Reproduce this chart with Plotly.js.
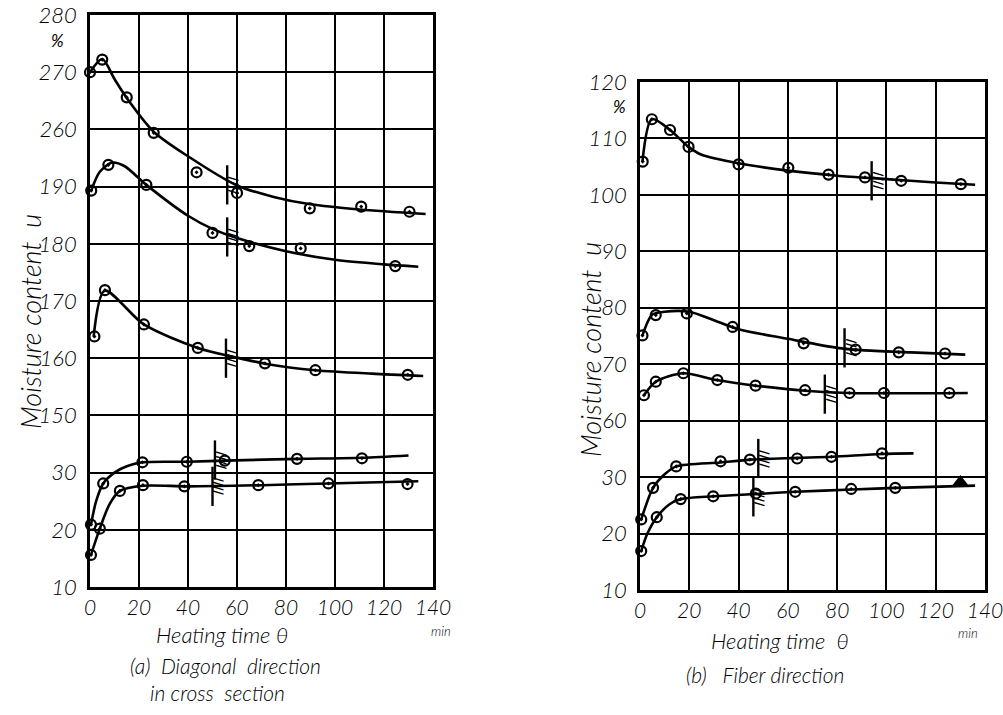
<!DOCTYPE html>
<html>
<head>
<meta charset="utf-8">
<script src="https://cdn.plot.ly/plotly-3.0.1.min.js"></script>
<style>html,body{margin:0;padding:0;background:#fff;}#chart{width:1003px;height:715px;}</style>
</head>
<body>
<div id="chart"></div>
<script>
// ---------- shared ----------
const thetaTicks = [0, 20, 40, 60, 80, 100, 120, 140];

// ---------- panel (a): diagonal direction in cross section ----------
const aTickLabels = ['10', '20', '30', '150', '160', '170', '180', '190', '260', '270', '280'];
// series 1 (top, 245-272 %)
const a1PtTheta = [0, 5, 15, 26, 43.5, 60, 89.7, 110.7, 130.4];
const a1PtU     = [270, 272.2, 265.6, 259.4, 252.5, 248.9, 246.2, 246.5, 245.6];
const a1CvTheta = [0, 5, 10, 15, 26, 40, 60, 75, 90, 110, 137];
const a1CvU     = [270, 272.3, 268.8, 265.5, 259.6, 255.3, 250.2, 248.2, 246.9, 246.0, 245.2];
// series 2 (176-194 %)
const a2PtTheta = [0.5, 7.5, 23, 50, 65, 86, 124.6];
const a2PtU     = [189.3, 193.8, 190.3, 181.9, 179.6, 179.2, 176.1];
const a2CvTheta = [0.5, 4, 9, 14, 23, 40, 50, 60, 80, 100, 120, 134];
const a2CvU     = [189.3, 192.6, 194.2, 193.6, 190.3, 184.9, 182.6, 181.0, 178.7, 177.2, 176.4, 176.0];
// series 3 (157-172 %)
const a3PtTheta = [1.8, 6.1, 22, 44, 71.4, 92, 129.7];
const a3PtU     = [163.8, 171.9, 165.9, 161.8, 159.1, 157.9, 157.1];
const a3CvTheta = [1.5, 6, 22, 44, 60, 72, 92, 115, 136];
const a3CvU     = [163.8, 171.8, 165.9, 161.8, 160.1, 159.0, 157.9, 157.3, 156.9];
// series 4 (21-33 %)
const a4PtTheta = [0.4, 5.4, 21.4, 39.5, 55, 84.5, 111];
const a4PtU     = [20.9, 28.1, 31.8, 31.9, 32.1, 32.4, 32.5];
const a4CvTheta = [0.4, 2.5, 5.4, 10, 15, 21.4, 40, 55, 85, 111, 130];
const a4CvU     = [20.9, 25.0, 28.1, 30.0, 31.1, 31.8, 31.9, 32.1, 32.4, 32.6, 33.0];
// series 5 (16-28 %)
const a5PtTheta = [0.4, 4, 12.2, 21.6, 38.5, 68.7, 97.3, 129.6];
const a5PtU     = [15.6, 20.2, 26.8, 27.8, 27.6, 27.8, 28.1, 28.0];
const a5CvTheta = [0.4, 4, 8, 12.2, 21.6, 40, 70, 97, 134];
const a5CvU     = [15.6, 20.2, 24.5, 26.8, 27.7, 27.6, 27.8, 28.1, 28.5];
// hatch marks (critical points) per series, top to bottom
const aHatchTheta = [56, 56, 55.5, 51, 50];
const aHatchU     = [250.3, 181.2, 160.0, 32.2, 27.6];

// ---------- panel (b): fiber direction ----------
const bTickLabels = ['10', '20', '30', '60', '70', '80', '90', '100', '110', '120'];
// series 1 (102-113 %)
const b1PtTheta = [1.1, 4.8, 12.2, 19.7, 40, 60.2, 76.5, 91.3, 106, 130.2];
const b1PtU     = [105.9, 113.4, 111.5, 108.5, 105.4, 104.8, 103.6, 103.1, 102.5, 101.9];
const b1CvTheta = [1, 4.8, 12.2, 19.7, 25, 40, 60, 80, 100, 120, 136];
const b1CvU     = [105.9, 113.4, 111.5, 108.5, 107.1, 105.6, 104.3, 103.4, 102.8, 102.2, 101.8];
// series 2 (72-79 %)
const b2PtTheta = [1, 6.4, 19, 37.6, 66.4, 87.5, 105, 123.8];
const b2PtU     = [75.1, 78.7, 79.0, 76.6, 73.7, 72.6, 72.1, 71.9];
const b2CvTheta = [1, 5, 10, 20, 30, 40, 60, 80, 90, 110, 132];
const b2CvU     = [75.1, 78.8, 79.3, 79.3, 77.8, 76.2, 74.5, 72.9, 72.5, 72.1, 71.7];
// series 3 (64-68 %)
const b3PtTheta = [1.6, 6.4, 17.6, 31.4, 46.9, 67, 85, 99, 125.5];
const b3PtU     = [64.5, 66.9, 68.4, 67.2, 66.2, 65.4, 64.9, 64.9, 64.9];
const b3CvTheta = [1.6, 6.4, 17.6, 31, 47, 67, 85, 133];
const b3CvU     = [64.5, 66.9, 68.4, 67.2, 66.2, 65.3, 64.9, 64.9];
// series 4 (22-34 %)
const b4PtTheta = [0.5, 5.3, 14.7, 32.7, 44.6, 63.8, 77.7, 98.2];
const b4PtU     = [22.5, 28.1, 31.9, 32.8, 33.1, 33.3, 33.6, 34.2];
const b4CvTheta = [0.5, 5.3, 10, 14.7, 32.7, 45, 64, 78, 98, 111];
const b4CvU     = [22.5, 28.1, 30.5, 31.9, 32.6, 33.1, 33.4, 33.6, 34.1, 34.2];
// series 5 (17-29 %)
const b5PtTheta = [0.5, 6.8, 16.5, 29.7, 47, 63, 85.7, 103.6];
const b5PtU     = [16.9, 22.9, 26.1, 26.6, 27.1, 27.4, 27.9, 28.1];
const b5TriTheta = [130];
const b5TriU     = [29.0];
const b5CvTheta = [0.5, 3, 6.8, 12, 16.5, 30, 47, 63, 86, 104, 136];
const b5CvU     = [16.9, 20.0, 22.9, 25.2, 26.1, 26.6, 27.0, 27.4, 27.8, 28.1, 28.5];
const bHatchTheta = [94, 83, 75, 48, 46];
const bHatchU     = [102.5, 72.9, 64.7, 33.3, 26.5];

// ---------- styling ----------
const FONT = "Lato, 'DejaVu Sans', sans-serif";
const ink = '#000';
const lineStyle = {color: ink, width: 2.6, shape: 'spline', smoothing: 0.8};
const markerStyle = {symbol: 'circle-open-dot', size: 10, color: ink, line: {color: ink, width: 2.2}};

function curve(x, y, xa, ya) {
  return {x: x, y: y, xaxis: xa, yaxis: ya, mode: 'lines', line: lineStyle, hoverinfo: 'skip', showlegend: false, cliponaxis: false};
}
function pts(x, y, xa, ya, sym) {
  const m = Object.assign({}, markerStyle);
  if (sym) { m.symbol = sym; m.size = 12; }
  return {x: x, y: y, xaxis: xa, yaxis: ya, mode: 'markers', marker: m, showlegend: false, cliponaxis: false};
}

// which y axis draws each series
const aAxes = ['y3', 'y2', 'y2', 'y', 'y'];
const bAxes = ['y5', 'y5', 'y5', 'y4', 'y4'];

const traces = [
  curve(a1CvTheta, a1CvU, 'x', 'y3'), pts(a1PtTheta, a1PtU, 'x', 'y3'),
  curve(a2CvTheta, a2CvU, 'x', 'y2'), pts(a2PtTheta, a2PtU, 'x', 'y2'),
  curve(a3CvTheta, a3CvU, 'x', 'y2'), pts(a3PtTheta, a3PtU, 'x', 'y2'),
  curve(a4CvTheta, a4CvU, 'x', 'y'),  pts(a4PtTheta, a4PtU, 'x', 'y'),
  curve(a5CvTheta, a5CvU, 'x', 'y'),  pts(a5PtTheta, a5PtU, 'x', 'y'),
  curve(b1CvTheta, b1CvU, 'x2', 'y5'), pts(b1PtTheta, b1PtU, 'x2', 'y5'),
  curve(b2CvTheta, b2CvU, 'x2', 'y5'), pts(b2PtTheta, b2PtU, 'x2', 'y5'),
  curve(b3CvTheta, b3CvU, 'x2', 'y5'), pts(b3PtTheta, b3PtU, 'x2', 'y5'),
  curve(b4CvTheta, b4CvU, 'x2', 'y4'), pts(b4PtTheta, b4PtU, 'x2', 'y4'),
  curve(b5CvTheta, b5CvU, 'x2', 'y4'), pts(b5PtTheta, b5PtU, 'x2', 'y4'),
  pts(b5TriTheta, b5TriU, 'x2', 'y4', 'triangle-up')
];

// hatch marks: vertical stroke through each critical point
const hatchMarker = {symbol: 'line-ns-open', size: 28, color: ink, line: {color: ink, width: 2.4}};
aHatchTheta.forEach((t, i) => traces.push({x: [t], y: [aHatchU[i]], xaxis: 'x', yaxis: aAxes[i], mode: 'markers',
  marker: hatchMarker, showlegend: false, cliponaxis: false}));
bHatchTheta.forEach((t, i) => traces.push({x: [t], y: [bHatchU[i]], xaxis: 'x2', yaxis: bAxes[i], mode: 'markers',
  marker: hatchMarker, showlegend: false, cliponaxis: false}));

const annotations = [];
function hatchText(xa, ya, t, u) {
  annotations.push({xref: xa, yref: ya, x: t, y: u, text: '////', showarrow: false, textangle: -90,
    xanchor: 'center', yanchor: 'middle', xshift: 6, font: {family: "'DejaVu Sans', sans-serif", size: 12, color: ink, weight: 'bold'}});
}
aHatchTheta.forEach((t, i) => hatchText('x', aAxes[i], t, aHatchU[i]));
bHatchTheta.forEach((t, i) => hatchText('x2', bAxes[i], t, bHatchU[i]));

function txt(x, y, text, size, extra) {
  annotations.push(Object.assign({xref: 'paper', yref: 'paper', x: x, y: y, text: text, showarrow: false,
    xanchor: 'center', yanchor: 'middle',
    font: {family: FONT, size: size, color: ink, style: 'italic', weight: 300}}, extra || {}));
}
// y titles
txt(30 / 1003, 1 - 322 / 715, 'Moisture content  u', 27, {textangle: -90});
txt(590 / 1003, 1 - 350 / 715, 'Moisture content  u', 27, {textangle: -90});
// percent signs
txt(57 / 1003, 1 - 41 / 715, '%', 17, {font: {family: FONT, size: 17, color: ink, style: 'italic'}});
txt(619 / 1003, 1 - 107 / 715, '%', 17, {font: {family: FONT, size: 17, color: ink, style: 'italic'}});
// min units
txt(441 / 1003, 1 - 631 / 715, 'min', 13);
txt(968 / 1003, 1 - 633 / 715, 'min', 13);
// x titles
txt(222 / 1003, 1 - 634 / 715, 'Heating time θ', 22);
txt(780 / 1003, 1 - 640 / 715, 'Heating time  θ', 22);
// captions
txt(225 / 1003, 1 - 665 / 715, '(a)  Diagonal  direction', 21);
txt(217 / 1003, 1 - 692 / 715, 'in cross  section', 21);
txt(765 / 1003, 1 - 674 / 715, '(b)   Fiber direction', 21);

const tickFont = {family: FONT, size: 21, color: ink, style: 'italic', weight: 300};
function xAxis(domain, anchor) {
  return {domain: domain, anchor: anchor, range: [0, 140], tickvals: thetaTicks, ticktext: thetaTicks.map(String),
    showgrid: true, gridcolor: ink, gridwidth: 2, showline: true, linecolor: ink, linewidth: 2.8, mirror: true,
    zeroline: false, ticks: '', tickfont: tickFont, ticklabelstandoff: 0, ticklabeloverflow: 'allow',
    fixedrange: true, layer: 'below traces'};
}
function yMain(domain, anchor, range, labels) {
  const vals = labels.map((_, i) => range[0] + i * 10);
  return {domain: domain, anchor: anchor, range: range, tickvals: vals, ticktext: labels,
    showgrid: true, gridcolor: ink, gridwidth: 2, showline: true, linecolor: ink, linewidth: 2.8, mirror: true,
    zeroline: false, ticks: '', tickfont: Object.assign({}, tickFont, {size: 22}), ticklabelstandoff: 6,
    ticklabeloverflow: 'allow', fixedrange: true, layer: 'below traces'};
}
function yOver(over, anchor, range) {
  return {overlaying: over, anchor: anchor, range: range, visible: false, showgrid: false, zeroline: false, fixedrange: true};
}

const aDomainX = [90 / 1003, 433 / 1003];
const aDomainY = [1 - 587 / 715, 1 - 15 / 715];
const bDomainX = [640 / 1003, 985 / 1003];
const bDomainY = [1 - 590 / 715, 1 - 82 / 715];

const layout = {
  width: 1003, height: 715,
  margin: {l: 0, r: 0, t: 0, b: 0},
  paper_bgcolor: '#fff', plot_bgcolor: '#fff',
  showlegend: false,
  xaxis: xAxis(aDomainX, 'y'),
  yaxis: yMain(aDomainY, 'x', [10, 110], aTickLabels),
  yaxis2: yOver('y', 'x', [120, 220]),
  yaxis3: yOver('y', 'x', [180, 280]),
  xaxis2: xAxis(bDomainX, 'y4'),
  yaxis4: yMain(bDomainY, 'x2', [10, 100], bTickLabels),
  yaxis5: yOver('y4', 'x2', [30, 120]),
  annotations: annotations
};

Plotly.newPlot('chart', traces, layout, {staticPlot: true, displayModeBar: false});
</script>
</body>
</html>
